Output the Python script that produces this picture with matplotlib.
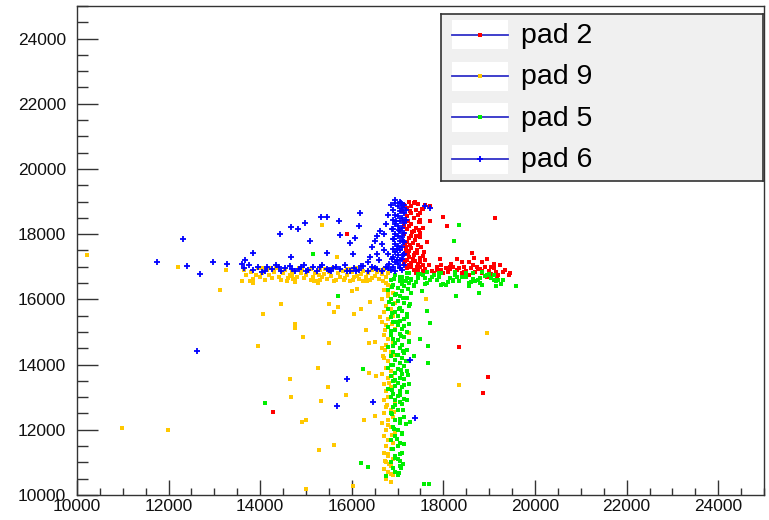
import matplotlib
matplotlib.use("Agg")
import matplotlib.pyplot as plt
from matplotlib.patches import Rectangle
from matplotlib.ticker import MultipleLocator

plt.rcParams['font.family'] = ['Liberation Sans', 'DejaVu Sans']

# ---------------- data ----------------
series_names = ["pad 2", "pad 9", "pad 5", "pad 6"]

# pad 2 (red)
red_x = [17250, 17350, 17150, 17450, 17300, 17200, 17540, 17400, 17100, 17300, 17450, 17200, 17350, 17500,
         17150, 17460, 17300, 17250, 17400, 17200, 17350, 17500, 17150, 17300, 17410, 17250, 17380, 17200,
         17330, 17450, 17180, 17300, 17420, 17250, 17430, 17150, 17350, 17250, 17500, 17200, 17380, 17300,
         17150, 17450, 17250, 17550, 17600, 17480,
         17120, 17380, 17480, 17220, 17560, 17130, 17480, 17160, 17520, 17220, 17580, 17340, 17170, 17420,
         17560, 17280, 17600, 17700, 17650, 17320, 17180, 17470, 17260, 17380,
         17560, 17500, 17997, 18077, 19120, 15905, 17700,
         17200, 17350, 17500, 17600, 17690, 17750, 17850, 17920, 17950, 18050, 18100, 18173, 18200, 18300,
         18398, 18400, 18450, 18500, 18600, 18617, 18676, 18700, 18741, 18800, 18850, 18900, 18945, 19000,
         19050, 19100, 19177, 19192, 19243, 19440, 19300, 17400, 17800, 18250, 18550, 19150, 18950, 17300,
         17650, 18000, 18350, 18750, 17450, 18150,
         17550, 17850, 18150, 18450, 18650, 18850, 19050, 19350, 19450, 17950, 18550, 18300, 18850, 19100,
         14287, 18332, 18967, 18857]
red_y = [18980, 18950, 18900, 18920, 18850, 18800, 18780, 18750, 18700, 18650, 18600, 18550, 18500, 18450,
         18400, 18370, 18300, 18250, 18200, 18150, 18100, 18050, 18000, 17950, 17930, 17880, 17820, 17770,
         17720, 17680, 17620, 17580, 17530, 17480, 17420, 17400, 17350, 17300, 17280, 17220, 17180, 17130,
         17100, 17080, 17050, 17320, 17200, 17150,
         18850, 18980, 18650, 18420, 18200, 18250, 17900, 17700, 17600, 17380, 17450, 17250, 17180, 17000,
         17050, 18700, 18900, 18420, 17750, 18080, 17520, 18120, 17680, 17420,
         18780, 18370, 18535, 18258, 18494, 18013, 18850,
         16950, 16900, 17000, 16920, 17060, 16880, 16980, 17236, 16900, 16950, 16850, 17101, 16980, 16900,
         17132, 16820, 16980, 16880, 16950, 17408, 17267, 16850, 17009, 16920, 16800, 16980, 17236, 16870,
         16780, 16950, 16653, 16745, 17061, 16745, 16850, 16820, 16800, 16780, 16760, 16850, 16700, 17000,
         16830, 16820, 16950, 16930, 16880, 16920,
         16870, 16900, 17000, 16840, 17050, 16880, 16980, 16900, 16820, 17050, 17150, 17250, 17150, 17100,
         12539, 14544, 13623, 13131]

# pad 9 (orange)
orange_x = [13650, 13700, 13800, 13850, 13950, 14000, 14050, 14100, 14150, 14200, 14250, 14300, 14350, 14400,
            14450, 14500, 14550, 14600, 14650, 14700, 14750, 14800, 14850, 14900, 14950, 15000, 15050, 15100,
            15150, 15200, 15250, 15300, 15350, 15400, 15450, 15500, 15550, 15600, 15650, 15700, 15750, 15800,
            15850, 15900, 15950, 16000, 16050, 16100, 16150, 16200, 16250, 16300, 16350, 16400, 16450, 16500,
            16550, 16600, 16650, 16700, 16750, 16800, 14220, 14580, 14920, 15280, 15620, 15980, 16330, 16680,
            15420, 14720, 16120, 15820,
            14050, 14700, 15300, 15900, 16450, 13900, 15100, 16250, 16600,
            13259, 13609, 13783, 13834, 12215, 13112, 10219, 15358, 15671, 16008, 16108, 14760, 15183, 15256,
            16036,
            16750, 16850, 16700, 16900, 16800, 16650, 16950, 16750, 16850, 16700, 16900, 16800, 16650, 16750,
            16950, 16850, 16700, 16800, 16900, 16750, 16650, 16850, 16950, 16700, 16800, 16900, 16750, 16850,
            16650, 16800, 16950, 16700, 16850, 16750, 16900, 16800, 16700, 16950, 16750, 16850, 16700, 16900,
            16800, 16650, 16850, 16750, 16950, 16700, 16800, 16900, 16750, 16850, 16700, 16800, 16900, 16750,
            16850, 16700, 16800, 16900, 16750, 16850, 16800, 16720, 16880, 16780, 16820, 16680, 16920, 16780,
            16880,
            16780, 16880, 16720, 16820, 16760, 16880, 16720, 16860,
            10991, 11990, 13609, 13783, 13834, 14455, 14061, 15504, 15606, 15708, 16058, 14760, 14760, 14935,
            13958, 15504, 15256, 14658, 15482, 14680, 15330, 15883, 14906, 15008, 15284, 15606, 15008, 16029,
            16051, 16320, 16386, 16502, 16386, 16539, 16000, 16196, 16394, 16611, 17246, 16277, 16496,
            18332, 18945, 17626]
orange_y = [16900, 16750, 16850, 16620, 16950, 16700, 16820, 16580, 16900, 16760, 16650, 16850, 16950, 16700,
            16600, 16800, 16900, 16650, 16750, 16850, 16560, 16700, 16950, 16800, 16650, 16750, 16880, 16600,
            16700, 16820, 16550, 16900, 16680, 16780, 16620, 16850, 16720, 16950, 16600, 16800, 16700, 16880,
            16650, 16750, 16550, 16850, 16700, 16950, 16620, 16780, 16880, 16680, 16800, 16580, 16900, 16720,
            16850, 16640, 16780, 16920, 16700, 16820, 16960, 16560, 16920, 16760, 16560, 16930, 16560, 16560,
            16930, 16620, 16720, 16580,
            16950, 16720, 16600, 16920, 16650, 16760, 16930, 16560, 16900,
            16917, 16570, 16570, 16499, 16990, 16294, 17368, 18289, 17295, 16263, 16324, 16530, 16570, 16499,
            16590,
            16500, 16400, 16300, 16200, 16100, 16000, 15900, 15800, 15700, 15600, 15500, 15400, 15300, 15200,
            15100, 15000, 14900, 14800, 14700, 14600, 14500, 14400, 14300, 14200, 14100, 14000, 13900, 13800,
            13700, 13600, 13500, 13400, 13300, 13200, 13100, 13000, 12900, 12800, 12700, 12600, 12500, 12400,
            12300, 12200, 12100, 12000, 11900, 11800, 11700, 11600, 11500, 11400, 11300, 11200, 11100, 11000,
            10900, 10800, 10700, 10600, 10500, 10400, 16450, 15050, 13650, 12150, 10950, 14250, 12550, 11250,
            15550,
            16200, 15250, 14450, 13450, 12750, 11850, 11050, 10650,
            12048, 12005, 16570, 16570, 16499, 15864, 15557, 15864, 15618, 15762, 15557, 15240, 15137, 14851,
            14574, 14677, 13899, 13551, 13306, 13018, 12886, 13061, 12250, 12293, 11382, 11525, 10184, 10286,
            15547, 15066, 14657, 14706, 13755, 13653, 16263, 15710, 15934, 15454, 14982, 12293, 12425,
            13377, 14974, 16017]

# pad 5 (green)
green_x = [16950, 17100, 17200, 16850, 17050, 17250, 16900, 17150, 17000, 16800, 17100, 17300, 16950, 17050,
           17200, 16850, 17000, 17150, 16900, 17250, 17050, 16800, 17100, 16950, 17200, 17000, 16850, 17150,
           17050, 16900, 17250, 17000, 16800, 17100, 16950, 17200, 17050, 16850, 17150, 16900, 17000, 17250,
           16950, 17100, 16800, 17050, 17200, 16900, 17150, 17000, 16850, 17100, 16950, 17250, 17050, 16900,
           17150, 16800, 17000, 17200, 16950, 17100, 16850, 17050, 17150, 16900, 17000, 17250, 16950, 17100,
           16800, 17050, 17200, 16900, 17000, 16850, 17150, 16950, 17050, 17100, 16900, 17000, 16850, 17150,
           16950, 17050, 16900, 17000, 17100, 16950, 16850, 17050, 17000, 16900, 17100, 16950, 17000, 16850,
           17050, 16950,
           16920, 17180, 16880, 17230, 16960, 17120, 16820, 17270, 17020, 16880, 17200, 16980, 17150, 16850,
           17080, 17240, 16900, 17120, 16980, 17180, 16860, 17080, 17220, 16940, 17130, 16880, 17060, 17200,
           16950, 17120, 16880, 17050, 17180, 16920, 17100, 16980, 17150, 16880, 17050, 16950, 17120, 16900,
           17030, 17000,
           17050, 17150, 17250, 17350, 17450, 17550, 17650, 17750, 17850, 17950, 18050, 18150, 18250, 18350,
           18450, 18550, 18650, 18750, 18850, 18950, 19050, 19150, 17100, 17300, 17500, 17700, 17900, 18100,
           18300, 18500, 18700, 18900, 19100, 17200, 17400, 17600, 17800, 18000, 18200, 18400, 18600, 18800,
           19000, 19200, 17350, 17950, 18550, 19150, 17650, 18250, 18850,
           17300, 17600, 17900, 18200, 18500, 18800, 19100, 19300, 17450, 18050, 18650, 19250,
           15708, 14111, 15161, 15701, 18347, 18223, 19593, 18282, 18777, 17698, 17480, 17661, 17355, 17669,
           17647, 17523, 16248, 16211, 16357, 17573, 17690, 17267, 17049, 17064, 16751]
green_y = [16750, 16700, 16650, 16600, 16550, 16500, 16450, 16400, 16350, 16300, 16250, 16200, 16150, 16100,
           16050, 16000, 15950, 15900, 15850, 15800, 15750, 15700, 15650, 15600, 15550, 15500, 15450, 15400,
           15350, 15300, 15250, 15200, 15150, 15100, 15050, 15000, 14950, 14900, 14850, 14800, 14750, 14700,
           14650, 14600, 14550, 14500, 14450, 14400, 14350, 14300, 14250, 14200, 14150, 14100, 14050, 14000,
           13950, 13900, 13850, 13800, 13750, 13700, 13650, 13600, 13550, 13500, 13450, 13400, 13350, 13300,
           13250, 13200, 13150, 13100, 13050, 13000, 12950, 12900, 12850, 12800, 12700, 12600, 12500, 12400,
           12300, 12200, 12100, 12000, 11900, 11800, 11700, 11600, 11500, 11400, 11300, 11200, 11100, 11000,
           10900, 10700,
           16620, 16560, 16380, 16320, 16180, 16040, 15920, 15860, 15720, 15580, 15460, 15320, 15180, 15020,
           14880, 14720, 14580, 14420, 14280, 14120, 13980, 13820, 13680, 13520, 13380, 13220, 13080, 12920,
           12760, 12620, 12480, 12320, 12180, 12020, 11880, 11720, 11560, 11420, 11260, 11120, 10960, 10820,
           10660, 10600,
           16700, 16550, 16800, 16450, 16650, 16750, 16500, 16700, 16600, 16800, 16450, 16650, 16750, 16550,
           16700, 16500, 16800, 16600, 16450, 16750, 16650, 16550, 16480, 16620, 16780, 16580, 16700, 16520,
           16680, 16800, 16560, 16720, 16600, 16820, 16520, 16650, 16760, 16480, 16600, 16700, 16540, 16660,
           16780, 16600, 16420, 16430, 16420, 16420, 16850, 16850, 16850,
           16600, 16480, 16820, 16550, 16700, 16500, 16750, 16600, 16780, 16430, 16620, 16460,
           16119, 12815, 17389, 16109, 18289, 17798, 16416, 16109, 16211, 15290, 14780, 14574, 14267, 14062,
           15649, 16263, 13859, 10992, 10860, 10329, 10329, 12250, 11034, 10838, 10583]

# pad 6 (blue)
blue_x = [17050, 16950, 17150, 17000, 17100, 16900, 17050, 17150, 16950, 17000, 17100, 16900, 17050, 17150,
          16950, 17000, 17100, 16900, 17050, 17150, 16950, 17000, 17100, 16900, 17050, 17150, 16950, 17000,
          17100, 16900, 17050, 16950, 17150, 17000, 16900, 17100, 17050, 16950, 17000, 17150, 16900, 17050,
          17100, 16950,
          16850, 16800, 16750, 16700, 16650, 16780, 16600, 16820, 16880, 16920, 16980, 17120, 17180, 16870,
          16700, 16550, 16500, 16620, 16560, 16450, 16400, 16350, 16950, 17080, 17180, 16960, 17030, 17110,
          16990, 17060,
          13650, 13750, 13850, 13950, 14050, 14150, 14250, 14350, 14450, 14550, 14650, 14750, 14850, 14950,
          15050, 15150, 15250, 15350, 15450, 15550, 15650, 15750, 15850, 15950, 16050, 16150, 16250, 16350,
          16450, 16550, 16650, 16750, 16850, 14100, 14400, 14700, 15000, 15300, 15600, 15900, 16200, 16500,
          16800, 14900, 15500, 16100,
          12318, 11743, 12412, 12966, 13265, 12690, 12618, 15905, 15679, 15330, 15459, 15730, 14985, 14680,
          14833, 14432, 15080, 13834, 15452, 16174, 16152, 15752, 15955, 16064, 16029, 13659, 13609, 14680,
          17274, 16452, 17377, 17700, 17600]
blue_y = [19000, 18950, 18900, 18850, 18800, 18750, 18700, 18650, 18600, 18550, 18500, 18450, 18400, 18350,
          18300, 18250, 18200, 18150, 18100, 18050, 18000, 17950, 17900, 17850, 17800, 17750, 17700, 17650,
          17600, 17550, 17500, 17450, 17400, 17350, 17300, 17250, 17200, 17150, 17100, 17050, 17000, 16950,
          16900, 16880,
          18900, 18600, 18300, 18000, 17700, 17400, 17200, 17100, 18150, 17850, 17550, 17350, 18450, 17250,
          17500, 17400, 17800, 18100, 17950, 17600, 17300, 17150, 19050, 18950, 18750, 18420, 18120, 17780,
          17220, 16950,
          16950, 17050, 16900, 17000, 16850, 16980, 16920, 17060, 16880, 16960, 17020, 16860, 16940, 17050,
          16900, 16980, 16870, 17040, 16930, 16860, 17000, 16920, 17060, 16880, 16960, 16900, 17030, 16870,
          16990, 16920, 16880, 17000, 16900, 16880, 17000, 16920, 16880, 17000, 16950, 16870, 17020, 16950,
          16960, 16990, 16900, 16860,
          17859, 17132, 17030, 17162, 17101, 16785, 14421, 13551, 12745, 18535, 18535, 18392, 18350, 18218,
          18145, 18013, 17798, 17420, 17420, 18638, 18258, 17972, 17727, 17870, 17389, 17205, 17071, 17307,
          14144, 12855, 12355, 18800, 18850]

colors = ["#ff0000", "#ffc800", "#00ee00", "#0000ff"]
xs = [red_x, orange_x, green_x, blue_x]
ys = [red_y, orange_y, green_y, blue_y]

x_range = (10000, 25000)
y_range = (10000, 25000)

# ---------------- figure ----------------
W, H = 769, 520
fig = plt.figure(figsize=(W / 100, H / 100), dpi=100)
fig.patch.set_facecolor("white")
ax = fig.add_axes([77 / W, 1 - 495 / H, (764 - 77) / W, (495 - 6) / H])
ax.set_facecolor("white")

for i in range(4):
    if i < 3:
        ax.plot(xs[i], ys[i], ls="none", marker="s", ms=3.0, mew=0, color=colors[i])
    else:
        ax.plot(xs[i], ys[i], ls="none", marker="+", ms=4.5, mew=1.3, color=colors[i])

ax.set_xlim(*x_range)
ax.set_ylim(*y_range)
ax.xaxis.set_major_locator(MultipleLocator(2000))
ax.xaxis.set_minor_locator(MultipleLocator(500))
ax.yaxis.set_major_locator(MultipleLocator(2000))
ax.yaxis.set_minor_locator(MultipleLocator(500))
ax.tick_params(axis="both", which="both", direction="in", top=False, right=False,
               color="#333333", width=1.0, labelsize=12.5, labelcolor="#111111")
ax.tick_params(axis="y", which="major", length=15, pad=8)
ax.tick_params(axis="y", which="minor", length=8)
ax.tick_params(axis="x", which="major", length=10.5, pad=3)
ax.tick_params(axis="x", which="minor", length=5.4)
for s in ax.spines.values():
    s.set_color("#333333")
    s.set_linewidth(1.0)

# ---------------- legend (ROOT style box) ----------------
lx0, lx1, ly0, ly1 = 441, 763, 14, 181
lax = fig.add_axes([lx0 / W, 1 - ly1 / H, (lx1 - lx0) / W, (ly1 - ly0) / H])
lax.set_facecolor("#f0f0f0")
lax.set_xlim(0, lx1 - lx0)
lax.set_ylim(ly1 - ly0, 0)
lax.set_xticks([])
lax.set_yticks([])
for s in lax.spines.values():
    s.set_color("#333333")
    s.set_linewidth(1.2)
row_centres = [21, 62.5, 103.5, 145]
for i, yc in enumerate(row_centres):
    lax.add_patch(Rectangle((11, yc - 14.5), 56, 29, facecolor="white", edgecolor="none"))
    lax.plot([11, 67], [yc, yc], color="#3030c8", lw=1.3)
    if i < 3:
        lax.plot([39], [yc], ls="none", marker="s", ms=3.0, mew=0, color=colors[i])
    else:
        lax.plot([39], [yc], ls="none", marker="+", ms=4.5, mew=1.3, color=colors[i])
    lax.text(80, yc + 1, series_names[i], fontsize=20.5, va="center", ha="left", color="black")

fig.savefig("out.png", dpi=100, facecolor="white")
